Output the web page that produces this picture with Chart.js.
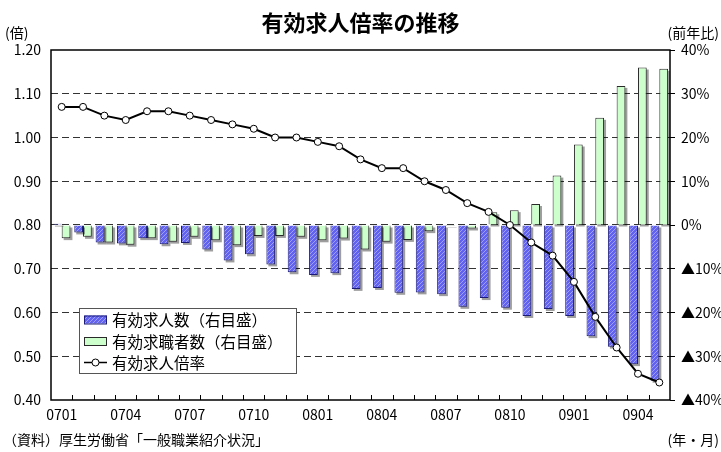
<!DOCTYPE html>
<html lang="ja">
<head>
    <meta charset="utf-8" />
    <title>有効求人倍率の推移</title>
    <style>
        html, body {
            margin: 0;
            padding: 0;
            background: #ffffff;
        }
        #wrap {
            position: relative;
            width: 721px;
            height: 452px;
        }
    </style>
</head>
<body>
    <div id="wrap">
        <canvas id="myChart" width="721" height="452"></canvas>
    </div>

    <script src="https://cdn.jsdelivr.net/npm/chart.js@4.4.1/dist/chart.umd.min.js"></script>
    <script>
        // 年・月
        var months = ["0701","0702","0703","0704","0705","0706","0707","0708","0709","0710","0711","0712",
                      "0801","0802","0803","0804","0805","0806","0807","0808","0809","0810","0811","0812",
                      "0901","0902","0903","0904","0905"];
        // 有効求人倍率 (左目盛, 倍)
        var ratio = [1.07,1.07,1.05,1.04,1.06,1.06,1.05,1.04,1.03,1.02,1.00,1.00,
                     0.99,0.98,0.95,0.93,0.93,0.90,0.88,0.85,0.83,0.80,0.76,0.73,
                     0.67,0.59,0.52,0.46,0.44];
        // 有効求人数 前年比 (右目盛, %)
        var openings = [0.3,-1.7,-4.0,-4.2,-3.0,-4.4,-4.1,-5.6,-8.1,-6.7,-9.0,-10.8,
                        -11.4,-11.0,-14.6,-14.4,-15.5,-15.4,-15.8,-18.7,-16.7,-18.9,-20.8,-19.2,
                        -20.8,-25.4,-27.8,-31.8,-35.6];
        // 有効求職者数 前年比 (右目盛, %)
        var seekers = [-3.0,-2.7,-4.0,-4.5,-3.0,-3.8,-2.7,-3.5,-4.6,-2.5,-2.5,-2.7,
                       -3.5,-3.1,-5.6,-3.8,-3.4,-1.4,-0.2,-0.8,2.9,3.4,4.8,11.3,
                       18.4,24.5,31.8,36.0,35.7];
        var leftTicks = [0.4, 1.2, 0.1];
        var rightTicks = [-40, 40, 10];

        var FONT = "'Noto Sans CJK JP', 'Noto Sans', sans-serif";
        Chart.defaults.font.family = FONT;
        Chart.defaults.color = "#000000";

        // hatched blue fill
        var makeHatch = function () {
            var c = document.createElement("canvas");
            c.width = 4;
            c.height = 4;
            var g = c.getContext("2d");
            g.fillStyle = "#6262f0";
            g.fillRect(0, 0, 4, 4);
            g.strokeStyle = "#a0a0fa";
            g.lineWidth = 1;
            g.beginPath();
            g.moveTo(0, 4);
            g.lineTo(4, 0);
            g.stroke();
            return g.createPattern(c, "repeat");
        };
        var hatch = makeHatch();

        // gray drop shadow under the bars
        var barShadow = {
            id: "barShadow",
            beforeDatasetDraw: function (chart, args) {
                var meta = args.meta;
                if (meta.type !== "bar") return;
                var ctx = chart.ctx;
                ctx.save();
                ctx.fillStyle = "rgba(0,0,0,0.38)";
                meta.data.forEach(function (el) {
                    var p = el.getProps(["x", "y", "base", "width"], true);
                    var top = Math.min(p.y, p.base);
                    var h = Math.abs(p.base - p.y);
                    ctx.fillRect(p.x - p.width / 2 + 2, top + 2, p.width, h);
                });
                ctx.restore();
            }
        };

        // frame, inner ticks, unit labels, source note, legend
        var decor = {
            id: "decor",
            afterDatasetsDraw: function (chart) {
                var ctx = chart.ctx;
                var a = chart.chartArea;
                var xs = chart.scales.x;
                var n = months.length;
                var step = (a.right - a.left) / n;
                ctx.save();
                ctx.strokeStyle = "#000000";
                ctx.lineWidth = 1;
                ctx.beginPath();
                for (var i = 1; i < n; i++) {
                    var bx = Math.round(xs.getPixelForValue(i) - step / 2) + 0.5;
                    ctx.moveTo(bx, a.bottom);
                    ctx.lineTo(bx, a.bottom - 5);
                }
                ctx.stroke();
                ctx.lineWidth = 1.5;
                ctx.strokeRect(a.left, a.top, a.right - a.left, a.bottom - a.top);
                ctx.restore();
            },
            afterDraw: function (chart) {
                var ctx = chart.ctx;
                ctx.save();
                ctx.fillStyle = "#000000";
                ctx.textBaseline = "middle";
                ctx.font = "14px " + FONT;
                ctx.textAlign = "left";
                ctx.fillText("(倍)", 5, 33);
                ctx.fillText("（資料）厚生労働省「一般職業紹介状況」", 3, 440);
                ctx.textAlign = "right";
                ctx.fillText("(前年比)", 719, 33);
                ctx.fillText("(年・月)", 719, 440);

                // legend box
                var lx = 79, ly = 308, lw = 217, lh = 65;
                ctx.fillStyle = "#ffffff";
                ctx.fillRect(lx, ly, lw, lh);
                ctx.strokeStyle = "#555555";
                ctx.lineWidth = 1;
                ctx.strokeRect(lx + 0.5, ly + 0.5, lw, lh);
                ctx.font = "15.5px " + FONT;
                ctx.textAlign = "left";
                var ds = chart.data.datasets;
                var rows = [ds[1], ds[2], ds[0]];
                rows.forEach(function (d, k) {
                    var cy = ly + 11.5 + k * 21.5;
                    if (d.type === "line") {
                        ctx.strokeStyle = "#000000";
                        ctx.lineWidth = 1.5;
                        ctx.beginPath();
                        ctx.moveTo(lx + 5, cy);
                        ctx.lineTo(lx + 28, cy);
                        ctx.stroke();
                        ctx.beginPath();
                        ctx.arc(lx + 16.5, cy, 3.5, 0, Math.PI * 2);
                        ctx.fillStyle = "#ffffff";
                        ctx.fill();
                        ctx.lineWidth = 1;
                        ctx.stroke();
                    } else {
                        ctx.fillStyle = d.backgroundColor;
                        ctx.fillRect(lx + 5, cy - 4, 23, 8);
                        ctx.strokeStyle = d.borderColor;
                        ctx.lineWidth = 1;
                        ctx.strokeRect(lx + 5.5, cy - 3.5, 22, 8);
                    }
                    ctx.fillStyle = "#000000";
                    ctx.fillText(d.label, lx + 33, cy + 1);
                });
                ctx.restore();
            }
        };

        var ctx = document.getElementById("myChart");
        var myChart = new Chart(ctx, {
            data: {
                labels: months,
                datasets: [{
                    type: "line",
                    label: "有効求人倍率",
                    data: ratio,
                    yAxisID: "y",
                    order: 0,
                    borderColor: "#000000",
                    borderWidth: 2,
                    pointRadius: 3.5,
                    pointBackgroundColor: "#ffffff",
                    pointBorderColor: "#000000",
                    pointBorderWidth: 1,
                    tension: 0
                }, {
                    type: "bar",
                    label: "有効求人数（右目盛）",
                    data: openings,
                    yAxisID: "y1",
                    order: 1,
                    backgroundColor: hatch,
                    borderColor: "#1c1c78",
                    borderWidth: 1,
                    categoryPercentage: 0.82,
                    barPercentage: 1.0
                }, {
                    type: "bar",
                    label: "有効求職者数（右目盛）",
                    data: seekers,
                    yAxisID: "y1",
                    order: 2,
                    backgroundColor: "#ccffcc",
                    borderColor: "#2a2a2a",
                    borderWidth: 1,
                    categoryPercentage: 0.82,
                    barPercentage: 1.0
                }]
            },
            options: {
                responsive: false,
                animation: false,
                layout: {
                    padding: { left: 0, right: 0, top: 0, bottom: 0 }
                },
                plugins: {
                    legend: { display: false },
                    tooltip: { enabled: false },
                    title: {
                        display: true,
                        text: "有効求人倍率の推移",
                        color: "#000000",
                        font: { size: 22, weight: "bold", family: FONT },
                        padding: { top: 9, bottom: 14.6 }
                    }
                },
                scales: {
                    x: {
                        offset: true,
                        grid: { display: false, drawTicks: false },
                        border: { display: false },
                        ticks: {
                            autoSkip: false,
                            maxRotation: 0,
                            padding: 6,
                            font: { size: 14 },
                            callback: function (v, i) {
                                return i % 3 === 0 ? months[i] : "";
                            }
                        },
                        afterFit: function (s) { s.height = 52; }
                    },
                    y: {
                        position: "left",
                        min: leftTicks[0],
                        max: leftTicks[1],
                        grid: {
                            drawTicks: false,
                            color: function (c) {
                                var v = c.tick.value;
                                return (v <= leftTicks[0] + 0.001 || v >= leftTicks[1] - 0.001) ? "rgba(0,0,0,0)" : "#333333";
                            },
                            lineWidth: 1
                        },
                        border: { display: false, dash: [7, 4] },
                        ticks: {
                            stepSize: leftTicks[2],
                            padding: 10,
                            font: { size: 14 },
                            callback: function (v) { return v.toFixed(2); }
                        },
                        afterFit: function (s) { s.width = 51; }
                    },
                    y1: {
                        position: "right",
                        min: rightTicks[0],
                        max: rightTicks[1],
                        border: { display: false },
                        grid: {
                            drawOnChartArea: false,
                            tickLength: 5,
                            color: "#000000"
                        },
                        ticks: {
                            stepSize: rightTicks[2],
                            padding: 6,
                            font: { size: 14 },
                            callback: function (v) {
                                return v < 0 ? "▲" + (-v) + "%" : v + "%";
                            }
                        },
                        afterFit: function (s) { s.width = 51; }
                    }
                }
            },
            plugins: [barShadow, decor]
        });
    </script>
</body>
</html>
